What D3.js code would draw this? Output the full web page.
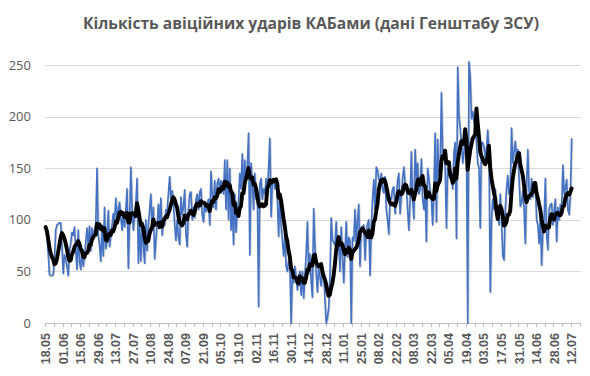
<!DOCTYPE html>
<html><head><meta charset="utf-8">
<script src="https://cdn.jsdelivr.net/npm/d3@7"></script>
<style>body{margin:0;background:#fff}svg{display:block}</style>
</head><body><svg id="c" width="590" height="376"></svg>
<script>
// Daily KAB strikes, 18.05.2024 - 12.07.2025
const may24 = [93,85,68,47,46,46,47,60,90,95,96,97,97,75];
const jun24 = [48,66,62,55,46,70,78,88,85,93,70,52,90,60,52,72,55,65,78,92,75,94,70,92,82,90,95,150,85,75];
const jul24 = [60,95,65,112,72,80,109,74,85,95,106,98,121,100,110,117,102,90,105,93,110,130,53,100,151,110,90,105,116,140,58];
const aug24 = [95,60,98,75,58,100,70,95,110,125,90,112,62,80,95,115,96,121,85,100,95,110,110,125,142,120,128,118,95,80,100];
const sep24 = [84,76,122,105,112,129,85,74,110,125,127,100,112,102,120,125,110,127,130,105,98,118,108,115,120,95,147,125,112,138];
const oct24 = [110,135,140,128,138,135,125,158,110,158,100,150,90,118,76,125,88,110,118,145,130,164,125,158,140,150,184,66,155,135,110];
const nov24 = [145,120,130,16,135,140,120,130,125,140,125,150,179,103,135,140,130,138,120,84,125,95,80,65,85,55,50,60,55,0];
const dec24 = [51,39,55,45,32,45,50,27,50,24,45,67,98,48,67,40,25,111,75,48,30,55,45,36,55,50,23,0,5,15,45];
const jan25 = [102,80,78,75,98,70,80,50,93,65,39,70,98,64,83,80,0,83,80,110,75,100,115,55,93,93,95,61,90,96,100];
const feb25 = [46,93,120,139,110,151,148,140,135,145,130,126,142,110,100,86,122,120,130,132,106,122,138,145,106,124,140,151];
const mar25 = [135,132,110,90,120,166,120,101,168,140,155,125,130,159,120,110,128,79,150,140,128,120,95,130,184,98,178,145,140,223,165];
const apr25 = [168,150,92,150,143,140,145,130,165,175,82,248,201,188,175,155,165,182,175,0,253,239,198,205,195,190,175,155,150,92];
const may25 = [175,175,170,160,170,187,165,30,100,120,110,130,105,110,95,125,100,65,61,110,130,143,125,128,189,155,165,176,160,168,140];
const jun25 = [113,117,128,110,77,135,168,128,120,140,122,135,137,100,95,77,103,56,90,100,140,85,71,110,115,116,95,110,120,79];
const jul25 = [112,100,115,110,153,125,130,139,110,105,125,179];

const xLabels = ["18.05","01.06","15.06","29.06","13.07","27.07","10.08","24.08","07.09","21.09","05.10","19.10","02.11","16.11","30.11","14.12","28.12","11.01","25.01","08.02","22.02","08.03","22.03","05.04","19.04","03.05","17.05","31.05","14.06","28.06","12.07"];
const yTicks = [0,50,100,150,200,250];
const title = "Кількість авіційних ударів КАБами (дані Генштабу ЗСУ)";

const strikes = [].concat(may24,jun24,jul24,aug24,sep24,oct24,nov24,dec24,jan25,feb25,mar25,apr25,may25,jun25,jul25);
const series = strikes.map((v,i)=>({i, v}));
// trailing 7-day average
const avg7 = strikes.map((v,i)=>({i, v: d3.mean(strikes.slice(Math.max(0,i-6), i+1))}));

const svg = d3.select("#c");
const L = 45, R = 581, T = 65, B = 323;
const nBands = 428;
const x = d3.scaleLinear().domain([-0.5, nBands-0.5]).range([L, R]);
const y = d3.scaleLinear().domain([0, 250]).range([B, T]);
const grey = "#595959";

svg.append("text").attr("x", 311).attr("y", 29).attr("text-anchor","middle")
  .attr("font-family","'Open Sans', 'Liberation Sans', sans-serif").attr("font-weight","bold")
  .attr("font-size", 15.5).attr("fill", grey)
  .attr("textLength", 456).attr("lengthAdjust","spacingAndGlyphs").text(title);

// gridlines
svg.append("g").selectAll("line").data(yTicks.filter(t=>t>0)).join("line")
  .attr("x1", L).attr("x2", R).attr("y1", d=>Math.round(y(d))+0.5).attr("y2", d=>Math.round(y(d))+0.5)
  .attr("stroke","#d9d9d9").attr("stroke-width",1);

// y labels
svg.append("g").selectAll("text").data(yTicks).join("text")
  .attr("x", 31).attr("y", d=>y(d)).attr("dy","0.36em").attr("text-anchor","end")
  .attr("font-family","'Open Sans', 'Liberation Sans', sans-serif").attr("font-size",13)
  .attr("fill", grey).text(d=>d);

// x axis line + ticks (every 7 days, at band edges)
svg.append("line").attr("x1", L).attr("x2", R).attr("y1", B+0.5).attr("y2", B+0.5)
  .attr("stroke","#bfbfbf").attr("stroke-width",1);
const tickDays = d3.range(0, nBands+1, 7);
svg.append("g").selectAll("line").data(tickDays).join("line")
  .attr("x1", d=>Math.round(x(d-0.5))+0.5).attr("x2", d=>Math.round(x(d-0.5))+0.5)
  .attr("y1", B).attr("y2", B+4).attr("stroke","#bfbfbf");

// x labels
svg.append("g").selectAll("text").data(xLabels).join("text")
  .attr("transform", (d,k)=>`translate(${x(k*14)},${333}) rotate(-90)`)
  .attr("dy","0.36em").attr("text-anchor","end")
  .attr("font-family","'Liberation Sans', Arial, sans-serif").attr("font-weight","bold")
  .attr("font-size",12.5).attr("fill", grey).text(d=>d);

const line = d3.line().x(d=>x(d.i)).y(d=>y(d.v));
// soft shadow under the daily line (as in the original chart)
svg.append("path").datum(series).attr("d", line).attr("fill","none")
  .attr("transform","translate(0.8,0.8)")
  .attr("stroke","#8c8c8c").attr("stroke-opacity",0.45).attr("stroke-width",1.6).attr("stroke-linejoin","round");
svg.append("path").datum(series).attr("d", line).attr("fill","none")
  .attr("stroke","#4472C4").attr("stroke-width",1.6).attr("stroke-linejoin","round");
svg.append("path").datum(avg7).attr("d", line).attr("fill","none")
  .attr("stroke","#000").attr("stroke-width",3.9).attr("stroke-linejoin","round").attr("stroke-linecap","round");
</script></body></html>
